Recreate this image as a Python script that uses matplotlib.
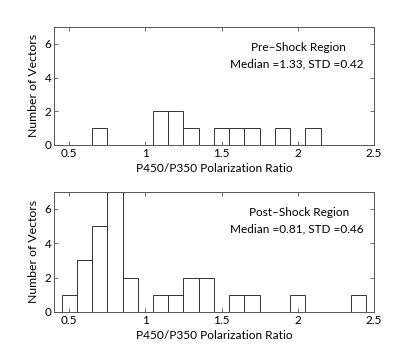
import numpy as np
import matplotlib
matplotlib.use("Agg")
import matplotlib.pyplot as plt

plt.rcParams['font.family'] = ['Lato', 'DejaVu Sans']
plt.rcParams['font.size'] = 8.5

# histogram bin centres (width 0.1) and counts
pre_centers = [0.7, 1.1, 1.2, 1.3, 1.5, 1.6, 1.7, 1.9, 2.1]
pre_counts = [1, 2, 2, 1, 1, 1, 1, 1, 1]
post_centers = [0.5, 0.6, 0.7, 0.8, 0.9, 1.1, 1.2, 1.3, 1.4, 1.6, 1.7, 2.0, 2.4]
post_counts = [1, 3, 5, 7, 2, 1, 1, 2, 2, 1, 1, 1, 1]

pre_title = ['Pre\u2013Shock Region', 'Median =1.33, STD =0.42']
post_title = ['Post\u2013Shock Region', 'Median =0.81, STD =0.46']

xticks = [0.5, 1, 1.5, 2, 2.5]
xticklabels = ['0.5', '1', '1.5', '2', '2.5']
yticks = [0, 2, 4, 6]


def draw_panel(ax, centers, counts, lines):
    ax.bar(centers, counts, width=0.1, color='white', edgecolor='#333333',
           linewidth=0.7)
    ax.set_xlim(0.4, 2.5)
    ax.set_ylim(0, 7)
    ax.set_xticks(xticks)
    ax.set_xticklabels(xticklabels)
    ax.set_yticks(yticks)
    ax.tick_params(direction='in', top=True, right=True, length=3,
                   width=0.6, color='#555555', labelsize=8.5, pad=2)
    for s in ax.spines.values():
        s.set_linewidth(0.7)
        s.set_color('#555555')
    ax.set_ylabel('Number of Vectors', fontsize=8.8, labelpad=4)
    ax.set_xlabel('P450/P350 Polarization Ratio', fontsize=8.6, labelpad=3)
    ax.text(0.765, 0.83, lines[0], transform=ax.transAxes, ha='center',
            va='center', fontsize=8.5)
    ax.text(0.76, 0.69, lines[1], transform=ax.transAxes, ha='center',
            va='center', fontsize=8.5)


fig = plt.figure(figsize=(4.15, 3.5), dpi=100)
ax1 = fig.add_axes([0.130, 0.586, 0.771, 0.337])
ax2 = fig.add_axes([0.130, 0.109, 0.771, 0.343])

draw_panel(ax1, pre_centers, pre_counts, pre_title)
draw_panel(ax2, post_centers, post_counts, post_title)

fig.savefig('out.png', dpi=100)
